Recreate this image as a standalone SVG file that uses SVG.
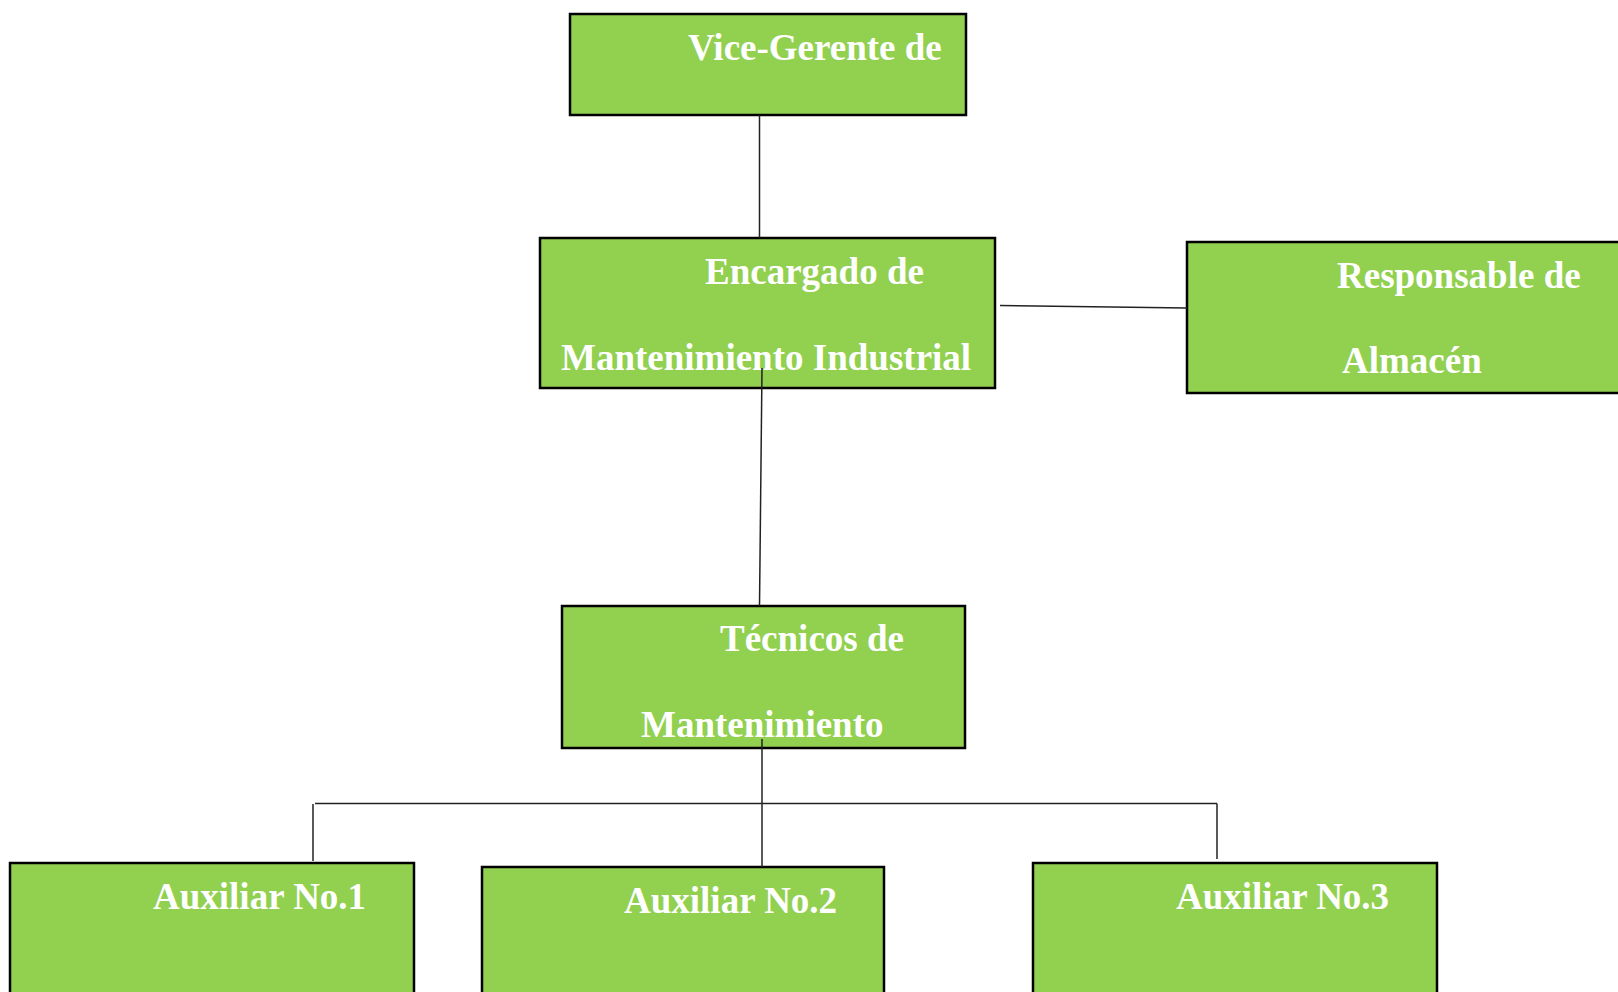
<svg xmlns="http://www.w3.org/2000/svg" width="1618" height="992" viewBox="0 0 1618 992">
<style>
.box{fill:#92D050;stroke:#000;stroke-width:2.5}
.t{font-family:"Liberation Serif","Times New Roman",serif;font-weight:bold;font-size:37px;fill:#fff}
.c{stroke:#222;stroke-width:1.5;fill:none}
</style>
<rect width="1618" height="992" fill="#fff"/>
<g id="vice-gerente">
<rect class="box" x="570" y="14" width="396" height="101"/>
<text class="t" x="688" y="60">Vice-Gerente de</text>
</g>
<g id="encargado">
<rect class="box" x="540" y="238" width="455" height="150"/>
<text class="t" x="705" y="284">Encargado de</text>
<text class="t" x="561" y="370">Mantenimiento Industrial</text>
</g>
<g id="responsable">
<rect class="box" x="1187" y="242" width="460" height="151"/>
<text class="t" x="1337" y="288">Responsable de</text>
<text class="t" x="1342" y="373">Almacén</text>
</g>
<g id="tecnicos">
<rect class="box" x="562" y="606" width="403" height="142"/>
<text class="t" x="720" y="651">Técnicos de</text>
<text class="t" x="641" y="737">Mantenimiento</text>
</g>
<g id="auxiliar1">
<rect class="box" x="10" y="863" width="404" height="160"/>
<text class="t" x="153" y="909">Auxiliar No.1</text>
</g>
<g id="auxiliar2">
<rect class="box" x="482" y="867" width="402" height="160"/>
<text class="t" x="624" y="913">Auxiliar No.2</text>
</g>
<g id="auxiliar3">
<rect class="box" x="1033" y="863" width="404" height="160"/>
<text class="t" x="1176" y="909">Auxiliar No.3</text>
</g>
<g id="connectors">
<line class="c" x1="759.5" y1="115" x2="759.5" y2="238"/>
<line class="c" x1="1000" y1="305.5" x2="1187" y2="308"/>
<line class="c" x1="762" y1="368" x2="759.5" y2="606"/>
<line class="c" x1="762" y1="739" x2="762" y2="867"/>
<line class="c" x1="315" y1="803.5" x2="1217" y2="803.5"/>
<line class="c" x1="313" y1="804" x2="313" y2="861"/>
<line class="c" x1="1217" y1="803.5" x2="1217" y2="859"/>
</g>
</svg>
